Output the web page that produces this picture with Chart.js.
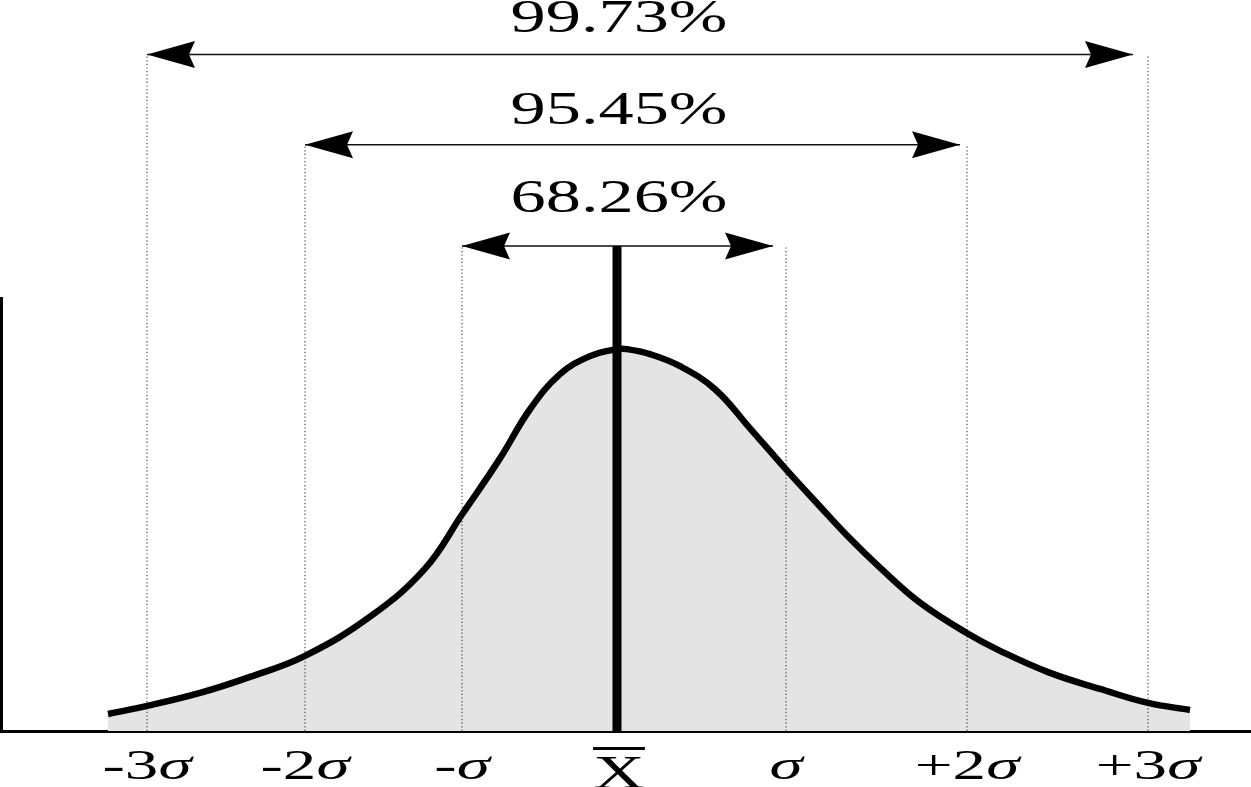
<!DOCTYPE html>
<html>
<head>
<meta charset="utf-8">
<title>Normal distribution</title>
<script src="https://cdn.jsdelivr.net/npm/chart.js@4"></script>
<style>
    html, body { margin: 0; padding: 0; background: #fff; }
    canvas { display: block; }
</style>
</head>
<body>
<canvas id="bell" width="1251" height="787"></canvas>
<script>
// Curve readings: position along the axis and height above the baseline
const curveX = [108, 147, 200, 250, 305, 370, 425, 462, 500, 530, 560, 590, 617, 627, 650, 680, 715, 750, 786, 820, 850, 880, 920, 968, 1000, 1050, 1100, 1148, 1190];
const curveY = [17, 25, 38, 54, 75, 114, 162, 216, 272, 321, 356, 374, 381, 381, 376, 364, 341, 302, 261, 224, 192, 163, 128, 97, 80, 58, 42, 28, 21];

// Sigma marks on the axis
const sigmaX = [147, 305, 462, 617, 786, 967, 1148];
const sigmaLabels = ['-3σ', '-2σ', '-σ', 'X\u0304', 'σ', '+2σ', '+3σ'];
const guideTop = [675, 585, 484, 484, 484, 585, 675];
const meanIndex = 3;

// Coverage bands (arrows)
const bandLabels = ['68.26%', '95.45%', '99.73%'];
const bandFrom = [462, 305, 147];
const bandTo = [773, 960, 1133];
const bandLevel = [484, 585, 675];

// Layout constants
const LABEL_GAP = [34, 21, 22];
const SERIF = '"Liberation Serif", "Times New Roman", serif';

// Build datasets
function guideData() {
    const pts = [];
    sigmaX.forEach((v, i) => {
        if (i === meanIndex) return;
        pts.push({ x: v, y: 0 }, { x: v, y: guideTop[i] }, { x: v, y: null });
    });
    return pts;
}

function shaftData() {
    const pts = [];
    bandLabels.forEach((_, i) => {
        pts.push({ x: bandFrom[i], y: bandLevel[i] }, { x: bandTo[i], y: bandLevel[i] }, { x: bandTo[i], y: null });
    });
    return pts;
}

// Drawing helpers
function arrowHead(ctx, tipX, tipY, dir) {
    ctx.beginPath();
    ctx.moveTo(tipX, tipY);
    ctx.lineTo(tipX - 48 * dir, tipY - 13.5);
    ctx.lineTo(tipX - 42 * dir, tipY);
    ctx.lineTo(tipX - 48 * dir, tipY + 13.5);
    ctx.closePath();
    ctx.fill();
}

function stretchText(ctx, text, cx, baseline, font, sx) {
    ctx.save();
    ctx.font = font;
    ctx.textAlign = 'center';
    ctx.textBaseline = 'alphabetic';
    ctx.translate(cx, baseline);
    ctx.scale(sx, 1);
    ctx.fillText(text, 0, 0);
    ctx.restore();
}

function tickLabel(ctx, label, cx, baseline) {
    const sx = 1.56;
    if (label.includes('\u0304')) {
        const base = label.replace('\u0304', '');
        stretchText(ctx, base, cx + 2, baseline + 9, '46px ' + SERIF, sx);
        ctx.font = '46px ' + SERIF;
        const w = ctx.measureText(base).width * sx;
        ctx.fillRect(cx + 2 - w / 2, baseline - 32, w, 3);
        return;
    }
    const k = label.indexOf('σ');
    const head = k < 0 ? label : label.slice(0, k);
    const tail = k < 0 ? '' : 'σ';
    const up = '43px ' + SERIF;
    const it = 'italic 43px ' + SERIF;
    ctx.font = up;
    const w1 = ctx.measureText(head).width;
    ctx.font = it;
    const w2 = tail ? ctx.measureText(tail).width : 0;
    ctx.save();
    ctx.translate(cx, baseline);
    ctx.scale(sx, 1);
    ctx.textAlign = 'left';
    ctx.textBaseline = 'alphabetic';
    const left = -(w1 + w2) / 2;
    ctx.font = up;
    ctx.fillText(head, left, 0);
    ctx.font = it;
    ctx.fillText(tail, left + w1, 0);
    ctx.restore();
}

// Arrowheads, band percentages and sigma labels
const overlay = {
    id: 'overlay',
    afterDatasetsDraw(chart) {
        const { ctx, scales: { x, y }, chartArea } = chart;
        ctx.save();
        ctx.fillStyle = '#000';
        const meanPx = x.getPixelForValue(sigmaX[meanIndex]);
        bandLabels.forEach((label, i) => {
            const py = y.getPixelForValue(bandLevel[i]);
            arrowHead(ctx, x.getPixelForValue(bandFrom[i]), py, -1);
            arrowHead(ctx, x.getPixelForValue(bandTo[i]), py, 1);
            stretchText(ctx, label, meanPx + 2, py - LABEL_GAP[i], '46px ' + SERIF, 1.53);
        });
        x.ticks.forEach((t, i) => {
            tickLabel(ctx, sigmaLabels[i], x.getPixelForValue(t.value), chartArea.bottom + 48);
        });
        ctx.restore();
    }
};

const ctx = document.getElementById('bell').getContext('2d');
new Chart(ctx, {
    type: 'line',
    data: {
        datasets: [
            {
                label: 'mean',
                data: [{ x: sigmaX[meanIndex], y: 0 }, { x: sigmaX[meanIndex], y: guideTop[meanIndex] }],
                borderColor: '#000',
                borderWidth: 9,
                borderCapStyle: 'butt',
                pointRadius: 0,
                clip: false,
                order: 0
            },
            {
                label: 'curve',
                data: curveX.map((v, i) => ({ x: v, y: curveY[i] })),
                borderColor: '#000',
                borderWidth: 6.5,
                backgroundColor: '#e4e4e4',
                fill: 'origin',
                tension: 0.4,
                pointRadius: 0,
                clip: false,
                order: 1
            },
            {
                label: 'guides',
                data: guideData(),
                borderColor: '#333',
                borderWidth: 1.1,
                borderDash: [1.2, 2.4],
                pointRadius: 0,
                spanGaps: false,
                clip: false,
                order: 2
            },
            {
                label: 'shafts',
                data: shaftData(),
                borderColor: '#111',
                borderWidth: 1.5,
                pointRadius: 0,
                spanGaps: false,
                clip: false,
                order: 3
            }
        ]
    },
    options: {
        responsive: false,
        animation: false,
        events: [],
        layout: { padding: { top: 298, bottom: 56, left: 1, right: 0 } },
        plugins: {
            legend: { display: false },
            tooltip: { enabled: false },
            filler: { drawTime: 'beforeDatasetsDraw' }
        },
        scales: {
            x: {
                type: 'linear',
                min: 1,
                max: 1251,
                afterBuildTicks: (scale) => {
                    scale.ticks = sigmaX.map(v => ({ value: v }));
                },
                grid: { display: false, drawTicks: false },
                ticks: { display: false },
                border: { display: true, color: '#000', width: 3 }
            },
            y: {
                type: 'linear',
                min: 0,
                max: 432,
                grid: { display: false, drawTicks: false },
                ticks: { display: false },
                border: { display: true, color: '#000', width: 3 }
            }
        }
    },
    plugins: [overlay]
});
</script>
</body>
</html>
